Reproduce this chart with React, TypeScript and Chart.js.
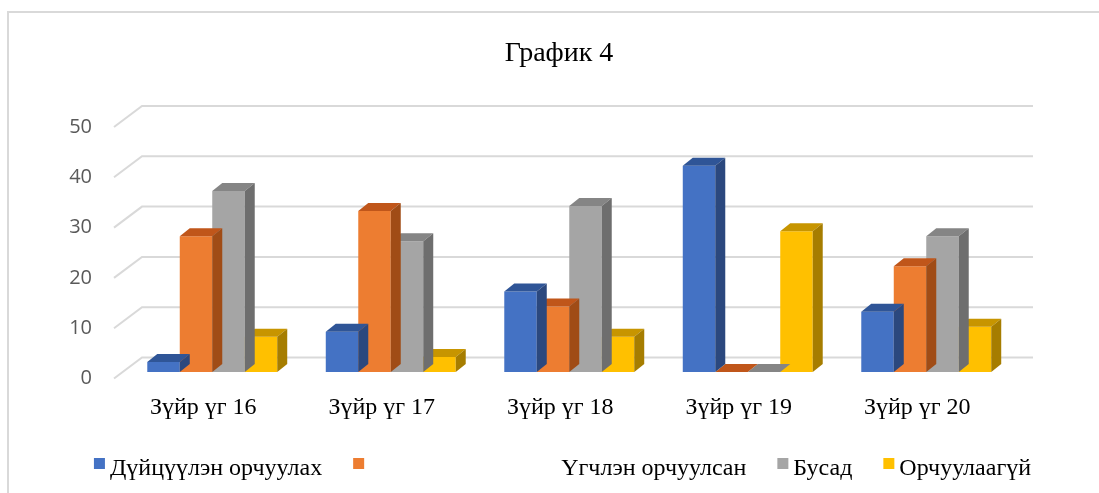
import React, { useEffect, useRef } from 'react';
import { Chart, registerables } from 'chart.js';

Chart.register(...registerables);

const title = 'График 4';
const categories = ['Зүйр үг 16', 'Зүйр үг 17', 'Зүйр үг 18', 'Зүйр үг 19', 'Зүйр үг 20'];
const seriesLabels = [
  'Дүйцүүлэн орчуулах',
  '                                Үгчлэн орчуулсан',
  'Бусад',
  'Орчуулаагүй',
];
const equivalentValues = [2, 8, 16, 41, 12];
const literalValues = [27, 32, 13, 0, 21];
const otherValues = [36, 26, 33, 0, 27];
const untranslatedValues = [7, 3, 7, 28, 9];
const yMin = 0;
const yMax = 50;
const yStep = 10;

const FRONT = ['#4472C4', '#ED7D31', '#A5A5A5', '#FFC000'];
const TOP = ['#2F5597', '#C0561A', '#858585', '#C79500'];
const SIDE = ['#2B487E', '#A04C16', '#6E6E6E', '#A67D00'];

const DEPTH_X = 28;
const DEPTH_Y = 21;
const BAR_DX = 10;
const BAR_DY = 8;
const SHIFT_X = 9;
const SHIFT_Y = 6.5;
const GRID_RIGHT = 1033;

const plugin3d = {
  id: 'bars3d',
  beforeDraw(chart: any) {
    const ctx = chart.ctx;
    ctx.save();
    ctx.fillStyle = '#ffffff';
    ctx.fillRect(0, 0, chart.width, chart.height);
    ctx.fillStyle = '#d9d9d9';
    ctx.fillRect(7, 11, 2, chart.height);
    ctx.fillRect(7, 11, chart.width, 2);
    // gridlines (floor diagonal + back wall)
    const ys = chart.scales.y;
    const left = chart.chartArea.left;
    ctx.strokeStyle = '#d9d9d9';
    ctx.lineWidth = 2;
    ys.ticks.forEach((t: any) => {
      const yf = ys.getPixelForValue(t.value);
      ctx.beginPath();
      ctx.moveTo(left, yf);
      ctx.lineTo(left + DEPTH_X, yf - DEPTH_Y);
      ctx.lineTo(GRID_RIGHT, yf - DEPTH_Y);
      ctx.stroke();
    });
    // title
    ctx.fillStyle = '#000000';
    ctx.font = '28px "Liberation Serif"';
    ctx.textAlign = 'center';
    ctx.textBaseline = 'alphabetic';
    ctx.fillText(title, 559, 61);
    ctx.restore();
  },
  beforeDatasetsDraw(chart: any) {
    chart.ctx.save();
    chart.ctx.translate(SHIFT_X, -SHIFT_Y);
  },
  afterDatasetDraw(chart: any, args: any) {
    const ctx = chart.ctx;
    const i = args.index;
    args.meta.data.forEach((el: any) => {
      const { x, y, base, width } = el.getProps(['x', 'y', 'base', 'width'], true);
      const x0 = x - width / 2;
      const x1 = x + width / 2;
      ctx.fillStyle = TOP[i];
      ctx.beginPath();
      ctx.moveTo(x0, y);
      ctx.lineTo(x1, y);
      ctx.lineTo(x1 + BAR_DX, y - BAR_DY);
      ctx.lineTo(x0 + BAR_DX, y - BAR_DY);
      ctx.closePath();
      ctx.fill();
      ctx.fillStyle = SIDE[i];
      ctx.beginPath();
      ctx.moveTo(x1, y);
      ctx.lineTo(x1 + BAR_DX, y - BAR_DY);
      ctx.lineTo(x1 + BAR_DX, base - BAR_DY);
      ctx.lineTo(x1, base);
      ctx.closePath();
      ctx.fill();
    });
  },
  afterDatasetsDraw(chart: any) {
    chart.ctx.restore();
  },
  afterDraw(chart: any) {
    const ctx = chart.ctx;
    ctx.save();
    ctx.font = '24px "Liberation Serif"';
    const box = 11;
    const gapText = 5;
    const gapItem = 31;
    const items = chart.data.datasets.map((d: any, i: number) => ({
      text: d.label,
      color: FRONT[i],
      w: ctx.measureText(d.label).width,
    }));
    const total = items.reduce((s: number, it: any) => s + box + gapText + it.w, 0) + gapItem * (items.length - 1);
    let x = 562.5 - total / 2;
    ctx.textAlign = 'left';
    ctx.textBaseline = 'alphabetic';
    items.forEach((it: any) => {
      ctx.fillStyle = it.color;
      ctx.fillRect(x, 458, box, box);
      x += box + gapText;
      ctx.fillStyle = '#000000';
      ctx.fillText(it.text, x, 475);
      x += it.w + gapItem;
    });
    ctx.restore();
  },
};

export default function App() {
  const ref = useRef<HTMLCanvasElement>(null);
  useEffect(() => {
    if (!ref.current) return;
    const seriesValues = [equivalentValues, literalValues, otherValues, untranslatedValues];
    const chart = new Chart(ref.current, {
      type: 'bar',
      data: {
        labels: categories,
        datasets: seriesValues.map((vals, i) => ({
          label: seriesLabels[i],
          data: vals,
          backgroundColor: FRONT[i],
          borderWidth: 0,
          barPercentage: 1,
          categoryPercentage: 0.728,
          clip: false as any,
        })),
      },
      options: {
        responsive: false,
        animation: false,
        events: [],
        layout: { padding: { top: 127, right: 92.5, bottom: 0, left: 0 } },
        plugins: {
          legend: { display: false },
          title: { display: false },
          tooltip: { enabled: false },
        },
        scales: {
          x: {
            grid: { display: false, drawTicks: false },
            border: { display: false },
            ticks: {
              color: '#000000',
              font: { family: '"Liberation Serif"', size: 24 },
              padding: 15,
              maxRotation: 0,
              autoSkip: false,
            },
            afterFit: (s: any) => { s.height = 493 - 378.5; },
          },
          y: {
            min: yMin,
            max: yMax,
            grid: { display: false, drawTicks: false },
            border: { display: false },
            ticks: {
              stepSize: yStep,
              color: '#595959',
              font: { family: '"Open Sans"', size: 20 },
              padding: 22,
            },
            afterFit: (s: any) => { s.width = 114; },
          },
        },
      },
      plugins: [plugin3d],
    });
    return () => chart.destroy();
  }, []);
  return (
    <div style={{ position: 'absolute', left: 0, top: 0, width: 1099, height: 493, background: '#fff' }}>
      <canvas ref={ref} width={1099} height={493} style={{ display: 'block' }} />
    </div>
  );
}
